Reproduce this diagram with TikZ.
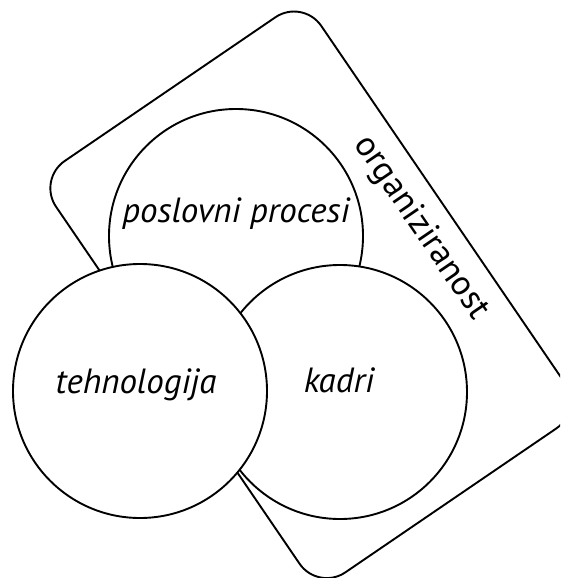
\documentclass[tikz,border=0pt]{standalone}
\usepackage{fontspec}
\setmainfont{PT Sans}
\begin{document}
\begin{tikzpicture}[x=1pt,y=-1pt,
  outline/.style={draw=black, line width=1.9pt, line join=round},
  disc/.style={outline, fill=white, circle, inner sep=0pt, minimum size=254pt},
  lbl/.style={font=\fontsize{35}{40}\selectfont\itshape, inner sep=0pt},
  bandlbl/.style={font=\fontsize{35}{40}\selectfont, inner sep=0pt}]
\useasboundingbox (0,0) rectangle (560,578);
\clip (0,0) rectangle (560,578);
% tilted rounded frame: organiziranost
\begin{scope}[shift={(310.4,294.8)}, rotate=34.3]
  \draw[outline, rounded corners=33pt] (-160.5,-249) rectangle (160.5,249);
\end{scope}
\node[bandlbl, rotate=-55.7] (org) at (421,228) {organiziranost};
% three overlapping discs
\node[disc] (procesi) at (236,236) {};
\node[disc] (kadri) at (340,392) {};
\node[disc] (tehno) at (140,391) {};
\node[lbl, anchor=base] (tprocesi) at (236,222) {poslovni procesi};
\node[lbl, anchor=base] (tkadri) at (339,392) {kadri};
\node[lbl, anchor=base] (ttehno) at (136,393) {tehnologija};
\end{tikzpicture}
\end{document}
